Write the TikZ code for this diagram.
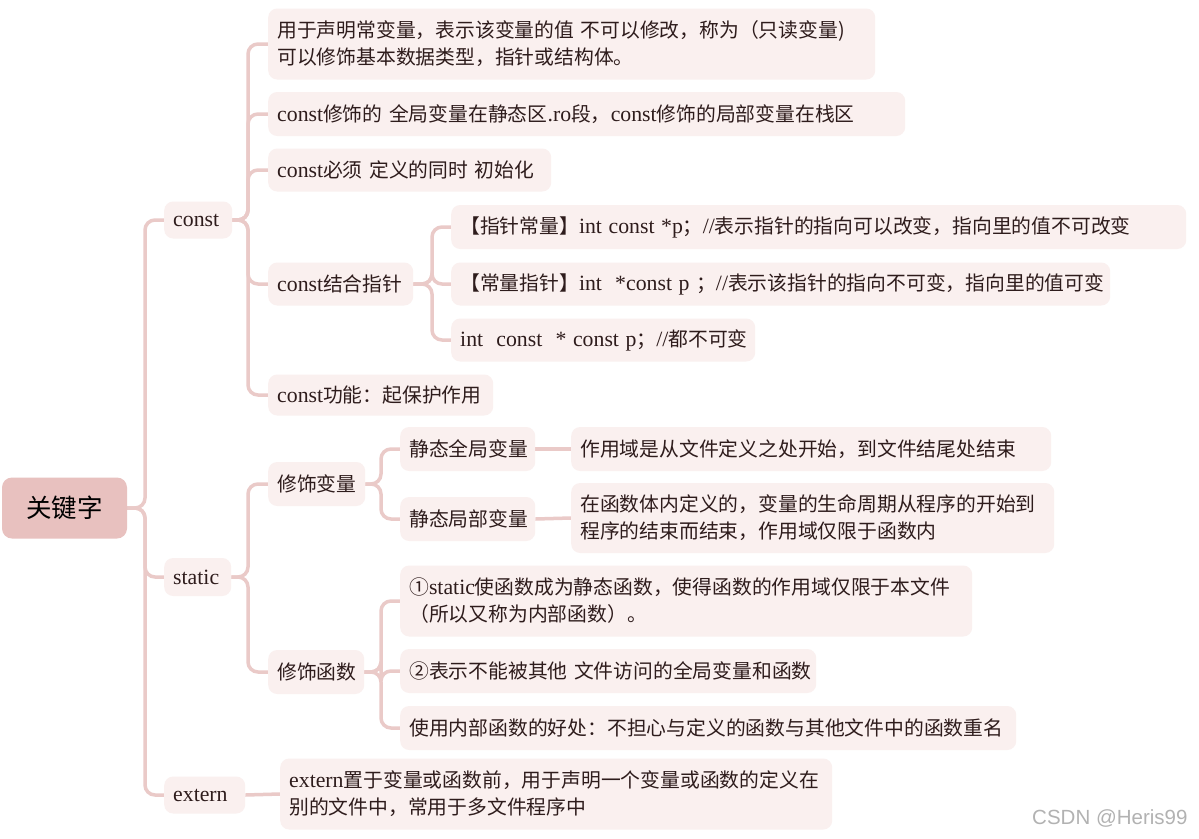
\documentclass[tikz,border=0pt]{standalone}
\usepackage{fontspec}
\usetikzlibrary{backgrounds}
\setmainfont{Noto Sans CJK SC}
\newfontfamily\lat[Scale=1.1]{Liberation Serif}
\newfontfamily\wmfont{Liberation Sans}
\definecolor{rootfill}{HTML}{E8C1BF}
\definecolor{leaffill}{HTML}{FAF0EF}
\definecolor{linec}{HTML}{EACAC8}
\definecolor{txt}{HTML}{2E1C1C}
\hyphenpenalty=10000
\begin{document}
\begin{tikzpicture}[x=1pt,y=-1pt,
  box/.style={rounded corners=9pt, fill=leaffill, inner xsep=9pt, inner ysep=0pt,
    anchor=west, align=left, text=txt, font=\fontsize{19.8}{27}\selectfont},
  bx/.style 2 args={box, text width=#1, minimum height=#2},
  rootbox/.style={rounded corners=10pt, fill=rootfill, minimum width=125pt,
    minimum height=61pt, font=\fontsize{25.5}{25.5}\selectfont, text=black},
  conn/.style={draw=linec, line width=3.5pt, rounded corners=10pt}]
\useasboundingbox (0,0) rectangle (1199,838);

% root and level 1
\node[rootbox] (root) at (64.5,508) {关键字};
\node[bx={50pt}{37pt}] (const) at (164,220) {\lat const};
\node[bx={49pt}{38pt}] (static) at (164,577) {\lat static};
\node[bx={63pt}{37pt}] (extern) at (164,795) {\lat extern};

% const children
\node[bx={589pt}{71pt}] (c1) at (268,44) {用于声明常变量，表示该变量的值~不可以修改，称为（只读变量)\\可以修饰基本数据类型，指针或结构体。};
\node[bx={619pt}{44pt}] (c2) at (268,114) {{\lat const}修饰的~全局变量在静态区{\lat .ro}段，{\lat const}修饰的局部变量在栈区};
\node[bx={265pt}{43pt}] (c3) at (268,170) {{\lat const}必须~定义的同时~初始化};
\node[bx={127pt}{43pt}] (c4) at (268,284) {{\lat const}结合指针};
\node[bx={207pt}{41pt}] (c5) at (268,395) {{\lat const}功能：起保护作用};

% pointer children
\node[bx={717pt}{44pt}] (p1) at (451,227) {【指针常量】{\lat int~const~*p}；{\lat //}表示指针的指向可以改变，指向里的值不可改变};
\node[bx={641pt}{43pt}] (p2) at (451,284) {【常量指针】{\lat int~~*const~p~}；{\lat //}表示该指针的指向不可变，指向里的值可变};
\node[bx={286pt}{43pt}] (p3) at (451,340) {{\lat int~~const~~*~const~p}；{\lat //}都不可变};

% static children
\node[bx={79pt}{44pt}] (sv) at (268,484) {修饰变量};
\node[bx={78pt}{44pt}] (sf) at (268,672) {修饰函数};
\node[bx={117pt}{44pt}] (sg) at (400,449) {静态全局变量};
\node[bx={117pt}{44pt}] (sl) at (400,519) {静态局部变量};
\node[bx={462pt}{44pt}] (sgd) at (571,449) {作用域是从文件定义之处开始，到文件结尾处结束};
\node[bx={465pt}{70pt}] (sld) at (571,518) {在函数体内定义的，变量的生命周期从程序的开始到\\程序的结束而结束，作用域仅限于函数内};
\node[bx={554pt}{71pt}] (f1) at (400,601) {①{\lat static}使函数成为静态函数，使得函数的作用域仅限于本文件\\（所以又称为内部函数）。};
\node[bx={398pt}{44pt}] (f2) at (400,671) {②表示不能被其他~文件访问的全局变量和函数};
\node[bx={598pt}{44pt}] (f3) at (400,728) {使用内部函数的好处：不担心与定义的函数与其他文件中的函数重名};

% extern child
\node[bx={534pt}{71pt}] (ed) at (280,794) {{\lat extern}置于变量或函数前，用于声明一个变量或函数的定义在\\别的文件中，常用于多文件程序中};

% junctions
\coordinate (j0) at (145,508);
\coordinate (j1) at (248,220);
\coordinate (j2) at (432,284);
\coordinate (j3) at (248,577);
\coordinate (j4) at (381,484);
\coordinate (j5) at (381,672);

% background and connectors
\begin{scope}[on background layer]
\fill[white] (0,0) rectangle (1199,838);
\foreach \t in {const,static,extern} \draw[conn] (root.east) -- (j0) |- (\t.west);
\foreach \t in {c1,c2,c3,c4,c5} \draw[conn] (const.east) -- (j1) |- (\t.west);
\foreach \t in {p1,p2,p3} \draw[conn] (c4.east) -- (j2) |- (\t.west);
\foreach \t in {sv,sf} \draw[conn] (static.east) -- (j3) |- (\t.west);
\foreach \t in {sg,sl} \draw[conn] (sv.east) -- (j4) |- (\t.west);
\foreach \t in {f1,f2,f3} \draw[conn] (sf.east) -- (j5) |- (\t.west);
\draw[conn] (sg.east) -- (sgd.west);
\draw[conn] (sl.east) -- (sld.west);
\draw[conn] (extern.east) -- (ed.west);
\end{scope}

\node[font=\wmfont\fontsize{20.5}{20.5}\selectfont, text=black!30, anchor=east] (wm) at (1191,818) {CSDN @Heris99};
\end{tikzpicture}
\end{document}
